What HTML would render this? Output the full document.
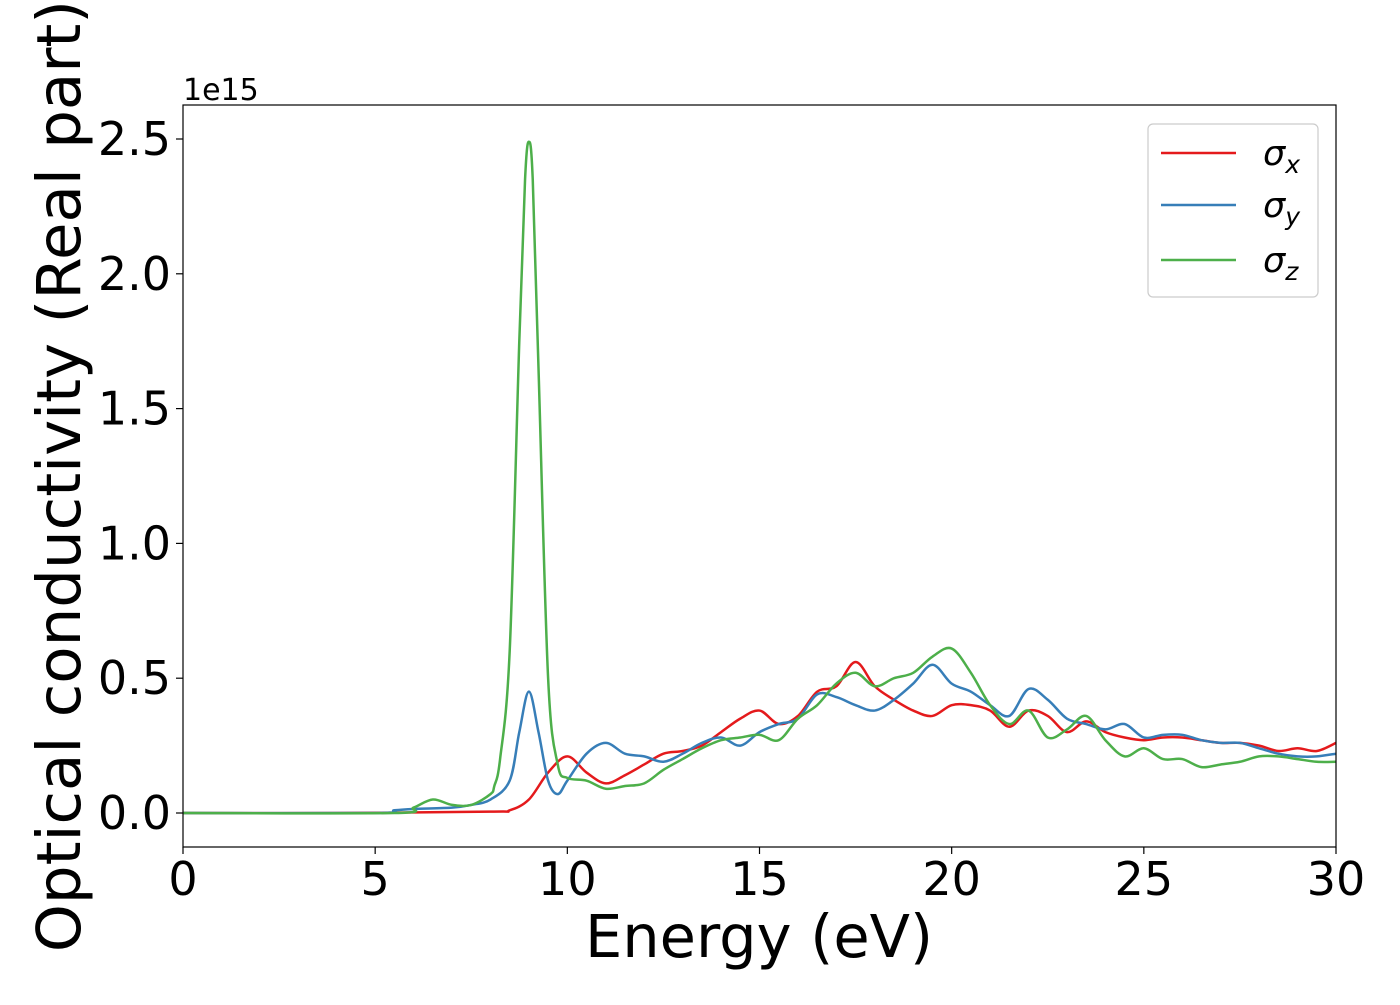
<!DOCTYPE html>
<html><head><meta charset="utf-8"><style>
body{margin:0;background:#fff;width:1400px;height:1000px;overflow:hidden;font-family:"Liberation Sans","DejaVu Sans",sans-serif}
</style></head><body>
<svg id="chart" width="1400" height="1000" xmlns="http://www.w3.org/2000/svg" font-family="DejaVu Sans, Liberation Sans, sans-serif">
<g id="plot"></g>
</svg>
<script>
const xTicks=[0,5,10,15,20,25,30];
const yTicks=[0.0,0.5,1.0,1.5,2.0,2.5];
const yTickLabels=["0.0","0.5","1.0","1.5","2.0","2.5"];
const redX=[0,4,8,8.5,9,9.5,10,10.5,11,11.5,12,12.5,13,13.5,14,14.5,15,15.5,16,16.5,17,17.5,18,18.5,19,19.5,20,20.5,21,21.5,22,22.5,23,23.5,24,24.5,25,25.5,26,26.5,27,27.5,28,28.5,29,29.5,30];
const redY=[0,0,0.005,0.01,0.05,0.15,0.21,0.15,0.11,0.14,0.18,0.22,0.23,0.25,0.30,0.35,0.38,0.33,0.36,0.45,0.47,0.56,0.47,0.42,0.38,0.36,0.40,0.40,0.38,0.32,0.38,0.36,0.30,0.34,0.30,0.28,0.27,0.28,0.28,0.27,0.26,0.26,0.25,0.23,0.24,0.23,0.26];
const blueX=[0,5,5.5,6,7,7.5,8,8.5,8.75,9,9.25,9.5,9.75,10,10.5,11,11.5,12,12.5,13,13.5,14,14.5,15,15.5,16,16.5,17,17.5,18,18.5,19,19.5,20,20.5,21,21.5,22,22.5,23,23.5,24,24.5,25,25.5,26,26.5,27,27.5,28,28.5,29,29.5,30];
const blueY=[0,0,0.01,0.015,0.02,0.03,0.05,0.12,0.3,0.45,0.3,0.12,0.07,0.12,0.22,0.26,0.22,0.21,0.19,0.22,0.26,0.28,0.25,0.30,0.33,0.35,0.44,0.43,0.40,0.38,0.42,0.48,0.55,0.48,0.45,0.40,0.36,0.46,0.42,0.35,0.33,0.31,0.33,0.28,0.29,0.29,0.27,0.26,0.26,0.24,0.22,0.21,0.21,0.22];
const greenX=[0,5.5,6,6.5,7,7.5,8,8.1,8.25,8.5,8.75,8.9,9,9.1,9.25,9.5,9.75,10,10.5,11,11.5,12,12.5,13,13.5,14,14.5,15,15.5,16,16.5,17,17.5,18,18.5,19,19.5,20,20.5,21,21.5,22,22.5,23,23.5,24,24.5,25,25.5,26,26.5,27,27.5,28,28.5,29,29.5,30];
const greenY=[0,0,0.02,0.05,0.03,0.03,0.07,0.1,0.2,0.6,1.75,2.35,2.49,2.35,1.65,0.5,0.18,0.13,0.12,0.09,0.10,0.11,0.16,0.20,0.24,0.27,0.28,0.29,0.27,0.35,0.40,0.48,0.52,0.47,0.50,0.52,0.58,0.61,0.52,0.40,0.33,0.38,0.28,0.31,0.36,0.27,0.21,0.24,0.20,0.20,0.17,0.18,0.19,0.21,0.21,0.20,0.19,0.19];

const L=183,R=1336,T=105,B=847;
const sx=v=>L+(v-0)/30*(R-L);
const sy=v=>813-v*269.6;
const NS="http://www.w3.org/2000/svg";
const svg=document.getElementById('chart');
function mk(tag,attrs,parent){const e=document.createElementNS(NS,tag);for(const k in attrs)e.setAttribute(k,attrs[k]);(parent||svg).appendChild(e);return e;}
const clip=mk('clipPath',{id:'clp'});mk('rect',{x:L,y:T,width:R-L,height:B-T},clip);
function smoothPath(xs,ys){
  const p=xs.map((x,i)=>[sx(x),sy(ys[i])]);
  let d='M'+p[0][0]+','+p[0][1];
  for(let i=0;i<p.length-1;i++){
    const p0=p[Math.max(0,i-1)],p1=p[i],p2=p[i+1],p3=p[Math.min(p.length-1,i+2)];
    const c1x=p1[0]+(p2[0]-p0[0])/6,c1y=p1[1]+(p2[1]-p0[1])/6;
    const c2x=p2[0]-(p3[0]-p1[0])/6,c2y=p2[1]-(p3[1]-p1[1])/6;
    d+=' C'+c1x+','+c1y+' '+c2x+','+c2y+' '+p2[0]+','+p2[1];
  }
  return d;
}
function series(xs,ys,color,name){
  const p=mk('path',{d:smoothPath(xs,ys),fill:'none',stroke:color,'stroke-width':2.5,'clip-path':'url(#clp)','stroke-linejoin':'round'});
  
  
}
series(redX,redY,'#e41a1c','sigma-x-line');
series(blueX,blueY,'#377eb8','sigma-y-line');
series(greenX,greenY,'#4daf4a','sigma-z-line');
const frame=mk('rect',{x:L,y:T,width:R-L,height:B-T,fill:'none',stroke:'#000','stroke-width':1.2});


xTicks.forEach(v=>{
  mk('line',{x1:sx(v),x2:sx(v),y1:B,y2:B+7,stroke:'#000','stroke-width':1.2});
  const t=mk('text',{x:sx(v),y:B+48,'font-size':46,'text-anchor':'middle'});t.textContent=v;
  
  
});
yTicks.forEach((v,i)=>{
  mk('line',{x1:L-7,x2:L,y1:sy(v),y2:sy(v),stroke:'#000','stroke-width':1.2});
  const t=mk('text',{x:L-12,y:sy(v)+16,'font-size':46,'text-anchor':'end'});t.textContent=yTickLabels[i];
  
  
});
const off=mk('text',{x:183,y:100,'font-size':30});off.textContent='1e15';


const xt=mk('text',{x:759,y:957,'font-size':59,'text-anchor':'middle'});xt.textContent='Energy (eV)';


const yt=mk('text',{x:0,y:0,'font-size':61,'text-anchor':'middle',transform:'translate(80,476) rotate(-90)'});yt.textContent='Optical conductivity (Real part)';


const lg=mk('g',{});


mk('rect',{x:1148,y:124,width:170,height:173,rx:5,fill:'#fff','fill-opacity':0.8,stroke:'#ccc','stroke-width':1.2},lg);
[['#e41a1c','x',153],['#377eb8','y',205],['#4daf4a','z',260]].forEach(([c,s,y])=>{
  mk('line',{x1:1161,x2:1236,y1:y,y2:y,stroke:c,'stroke-width':2.5},lg);
  const t=mk('text',{x:1263,y:y+12,'font-size':35,'font-style':'italic'},lg);
  t.textContent='σ';
  const sub=mk('tspan',{'font-size':25,dy:8},t);sub.textContent=s;
  
  
});
</script>
</body></html>
